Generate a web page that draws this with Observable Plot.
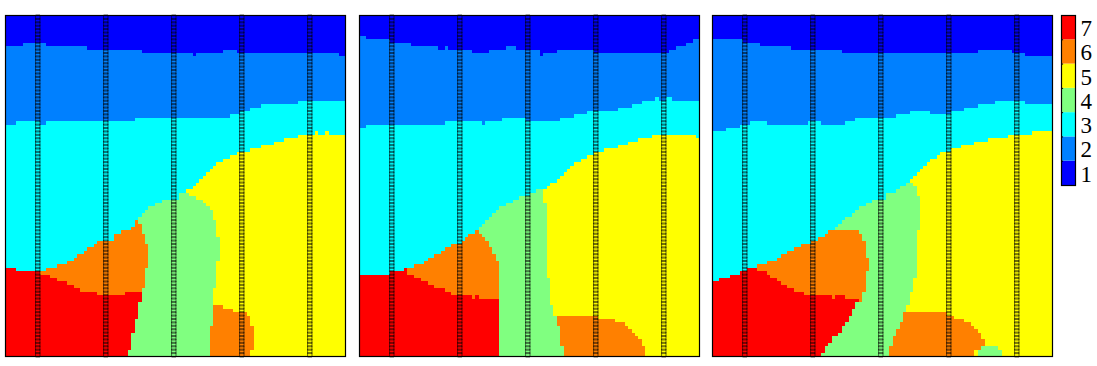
<!DOCTYPE html>
<html>
<head>
<meta charset="utf-8">
<script src="https://cdn.jsdelivr.net/npm/d3@7"></script>
<script src="https://cdn.jsdelivr.net/npm/@observablehq/plot@0.6"></script>
<style>
  html, body { margin: 0; padding: 0; background: #fff; }
  #wrap { position: relative; width: 1097px; height: 366px; overflow: hidden; }
  #wrap > svg, #wrap > figure { position: absolute; margin: 0; }
</style>
</head>
<body>
<div id="wrap"></div>
<script>
// ---- legend / facies codes ----
const faciesCodes = [1, 2, 3, 4, 5, 6, 7];
const faciesColors = ["#0000ff", "#0080ff", "#00ffff", "#80ff80", "#ffff00", "#ff8000", "#ff0000"];

// ---- well columns (grid units, 100 x 100 grid) ----
const wellColumns = [9.5, 29.5, 49.5, 69.5, 89.5];
const gridRows = 100;

// ---- Panel 1: layer boundaries as [startColumn, depthRow] runs ----
const p1Top2 = [[0,9],[5,8],[12,9],[24,10],[40,11],[55,12],[56,11],[64,10],[68,11],[98,12]];
const p1Top3 = [[0,32],[3,31],[10,32],[12,31],[38,30],[66,29],[69,28],[72,27],[75,26],[86,25]];
const p1TopLower = [[0,74],[3,75],[12,74],[15,73],[18,72],[20,71],[21,70],[23,69],[24,68],[26,67],[27,66],[32,64],[34,63],[37,62],[38,60],[39,59],[40,58],[41,57],[42,56],[44,55],[46,54],[51,52],[53,51],[55,50],[56,49],[57,48],[58,47],[59,46],[60,45],[61,44],[62,43],[64,42],[66,41],[68,40],[72,39],[75,38],[79,37],[82,36],[86,35],[91,34],[92,35],[94,34],[95,35]];
const p1Green = [[30,45],[53,45],[53,52],[54,52],[54,53],[56,53],[56,54],[58,54],[58,55],[59,55],[59,56],[60,56],[60,57],[61,57],[61,60],[62,60],[62,65],[63,65],[63,72],[62,72],[62,80],[61,80],[61,100],[30,100]];
const p1Orange = [[5,55],[39,55],[39,61],[40,61],[40,64],[41,64],[41,67],[42,67],[42,74],[41,74],[41,80],[40,80],[40,84],[5,84]];
const p1Red = [[0,70],[10,70],[10,76],[13,76],[13,77],[15,77],[15,78],[18,78],[18,79],[20,79],[20,80],[22,80],[22,81],[27,81],[27,82],[35,82],[35,81],[40,81],[40,84],[39,84],[39,89],[38,89],[38,93],[37,93],[37,98],[36,98],[36,100],[0,100]];
const p1OrangeLow = [[61,85],[64,85],[64,86],[67,86],[67,87],[71,87],[71,88],[72,88],[72,91],[73,91],[73,98],[72,98],[72,100],[60,100],[60,91],[61,91]];

// ---- Panel 2 ----
const p2Top2 = [[0,6],[2,7],[9,8],[15,9],[23,10],[25,9],[26,10],[33,11],[38,10],[43,9],[46,10],[53,12],[54,11],[58,10],[69,11],[91,10],[93,9],[96,8],[98,7]];
const p2Top3 = [[0,33],[2,32],[25,31],[36,32],[37,31],[42,30],[49,31],[59,30],[63,29],[67,28],[76,27],[80,26],[83,25],[87,24],[88,25],[90,24],[92,25]];
const p2TopLower = [[0,76],[9,75],[13,74],[16,73],[19,72],[20,71],[22,70],[24,69],[25,68],[27,67],[30,66],[31,65],[32,64],[34,63],[35,62],[36,61],[37,60],[38,59],[39,58],[40,57],[41,56],[43,55],[45,54],[47,53],[50,52],[52,51],[55,50],[56,49],[58,48],[59,47],[60,46],[61,45],[62,44],[63,43],[65,42],[67,41],[69,40],[72,39],[76,38],[79,37],[82,36],[86,35],[99,36]];
const p2Green = [[30,45],[54,45],[54,55],[55,55],[55,77],[56,77],[56,85],[57,85],[57,88],[60,88],[60,100],[30,100]];
const p2Orange = [[10,60],[35,60],[35,64],[36,64],[36,65],[37,65],[37,66],[38,66],[38,68],[39,68],[39,70],[40,70],[40,72],[41,72],[41,84],[10,84]];
const p2Red = [[0,70],[14,70],[14,76],[16,76],[16,77],[18,77],[18,78],[20,78],[20,79],[22,79],[22,80],[25,80],[25,81],[27,81],[27,82],[33,82],[33,83],[34,83],[34,82],[35,82],[35,83],[41,83],[41,100],[0,100]];
const p2OrangeLow = [[58,88],[70,88],[70,89],[75,89],[75,90],[78,90],[78,91],[79,91],[79,92],[80,92],[80,93],[81,93],[81,94],[82,94],[82,95],[83,95],[83,97],[84,97],[84,100],[60,100],[60,97],[59,97],[59,91],[58,91]];

// ---- Panel 3 ----
const p3Top2 = [[0,7],[9,8],[14,9],[23,10],[38,11],[78,10],[88,11],[92,12]];
const p3Top3 = [[0,34],[4,33],[8,32],[11,31],[16,32],[28,31],[32,32],[39,31],[42,30],[54,29],[58,28],[64,29],[70,28],[74,27],[78,26],[83,25],[92,26]];
const p3TopLower = [[0,78],[2,77],[5,76],[8,75],[10,74],[13,73],[16,72],[19,71],[20,70],[22,69],[24,68],[26,67],[29,66],[31,65],[33,64],[34,63],[36,62],[37,61],[38,60],[39,59],[41,58],[42,57],[43,56],[45,55],[47,54],[51,52],[54,51],[55,50],[57,49],[58,48],[59,47],[60,46],[61,45],[62,44],[63,43],[64,42],[66,41],[67,40],[70,39],[73,38],[77,37],[81,36],[87,35],[94,34]];
const p3Green = [[30,45],[58,45],[58,49],[59,49],[59,50],[60,50],[60,53],[61,53],[61,63],[60,63],[60,77],[59,77],[59,81],[58,81],[58,85],[57,85],[57,100],[30,100]];
const p3Orange = [[10,60],[36,60],[36,63],[43,63],[43,64],[44,64],[44,66],[45,66],[45,71],[46,71],[46,75],[45,75],[45,81],[44,81],[44,84],[10,84]];
const p3Red = [[0,70],[13,70],[13,75],[16,75],[16,76],[17,76],[17,77],[19,77],[19,78],[20,78],[20,79],[22,79],[22,80],[24,80],[24,81],[27,81],[27,82],[35,82],[35,83],[36,83],[36,82],[39,82],[39,83],[43,83],[43,84],[42,84],[42,86],[41,86],[41,88],[40,88],[40,90],[39,90],[39,91],[38,91],[38,93],[37,93],[37,94],[35,94],[35,96],[34,96],[34,97],[33,97],[33,99],[32,99],[32,100],[0,100]];
const p3OrangeLow = [[56,87],[69,87],[69,88],[71,88],[71,89],[74,89],[74,90],[76,90],[76,91],[77,91],[77,92],[78,92],[78,93],[79,93],[79,95],[80,95],[80,98],[77,98],[77,100],[52,100],[52,97],[53,97],[53,94],[54,94],[54,92],[55,92],[55,90],[56,90]];
const p3GreenLow = [[78,98],[79,98],[79,97],[84,97],[84,98],[85,98],[85,100],[78,100]];

const panels = [
  {left: 4.5, layers: [p1Top2, p1Top3, p1TopLower], bodies: [[p1Green,4],[p1Orange,6],[p1Red,7],[p1OrangeLow,6]]},
  {left: 358.6, layers: [p2Top2, p2Top3, p2TopLower], bodies: [[p2Green,4],[p2Orange,6],[p2Red,7],[p2OrangeLow,6]]},
  {left: 712.3, layers: [p3Top2, p3Top3, p3TopLower], bodies: [[p3Green,4],[p3Orange,6],[p3Red,7],[p3OrangeLow,6],[p3GreenLow,4]]}
];

function depthAt(runs, x) {
  let d = runs[0][1];
  for (const [c, r] of runs) { if (c <= x) d = r; else break; }
  return d;
}
function faciesAt(panel, x, y) {
  const [t2, t3, tl] = panel.layers;
  if (y < depthAt(t2, x)) return 1;
  if (y < depthAt(t3, x)) return 2;
  if (y < depthAt(tl, x)) return 3;
  let v = 5;
  for (const [poly, val] of panel.bodies) if (d3.polygonContains(poly, [x, y])) v = val;
  return v;
}

const wrap = document.getElementById("wrap");
const top0 = 14.7, m = 2;
const wellDots = wellColumns.flatMap(c => d3.range(gridRows).map(r => ({x: c, y: r + 0.5})));

for (const P of panels) {
  const svg = Plot.plot({
    width: 340 + 2 * m, height: 341 + 2 * m, margin: m,
    x: {domain: [0, 100], axis: null},
    y: {domain: [0, 100], reverse: true, axis: null},
    color: {type: "ordinal", domain: faciesCodes, range: faciesColors},
    marks: [
      Plot.raster({x1: 0, x2: 100, y1: 0, y2: 100, width: 100, height: 100,
        fill: (x, y) => faciesAt(P, x, y), imageRendering: "pixelated"}),
      Plot.dot(wellDots, {x: "x", y: "y", symbol: "square", r: 2.5, stroke: "#000", strokeWidth: 0.8, strokeOpacity: 0.7, fill: "none"}),
      Plot.frame({stroke: "#000", strokeWidth: 1.2})
    ]
  });
  svg.style.left = (P.left - m) + "px";
  svg.style.top = (top0 - m) + "px";
  wrap.appendChild(svg);
}

// ---- colour bar legend ----
const legBounds = faciesCodes.slice(1).map(d => d - 1);
const leg = Plot.plot({
  width: 1 + 14 + 34, height: 170 + 2, marginLeft: 1, marginRight: 34, marginTop: 1, marginBottom: 1,
  style: {background: "transparent", overflow: "visible"},
  x: {domain: [0, 1], axis: null},
  y: {domain: [0, 7], axis: null},
  color: {type: "ordinal", domain: faciesCodes, range: faciesColors},
  marks: [
    Plot.rect(faciesCodes, {x1: 0, x2: 1, y1: d => d - 1, y2: d => d, fill: d => d}),
    Plot.ruleY(legBounds, {x1: 0, x2: 0.15, stroke: "#000", strokeWidth: 1}),
    Plot.frame({stroke: "#000", strokeWidth: 1.2}),
    Plot.text(faciesCodes, {x: 1, y: d => d - 0.5, text: d => String(d), textAnchor: "start", dx: 5, dy: 1,
      fontFamily: "Liberation Serif", fontSize: 23, fill: "#000"})
  ]
});
leg.style.left = (1061.3 - 1) + "px";
leg.style.top = (15.3 - 1) + "px";
wrap.appendChild(leg);
</script>
</body>
</html>
